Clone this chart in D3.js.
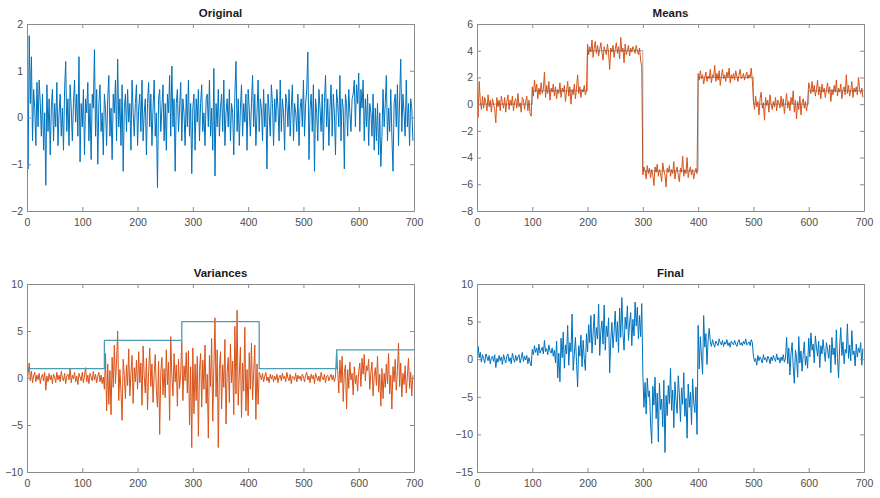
<!DOCTYPE html>
<html>
<head>
<meta charset="utf-8">
<script src="https://cdn.jsdelivr.net/npm/d3@7"></script>
<style>
    body { margin: 0; background: #fff; }
    svg { display: block; }
</style>
</head>
<body>
<div id="visualization"></div>
<script>
//sample spacing on the x axis (one value every 2 steps)
const sampleStep = 2;

const xTicks = [0, 100, 200, 300, 400, 500, 600, 700];

//original signal
const originalValues = [
    0.9, -1.1, 1.75, 0.3, 1.3, -0.5, 0.6, 0.2, -0.6, 0.75, -0.2, 0.8, 0.3, -0.4, 0.5, -0.7, 0.1, -1.45, 0.7, -0.3, 0.4, -0.8, 0.2, 0.6, -0.5,
    0.3, -0.2, 0.75, -0.6, 0.1, 0.5, -0.4, 0.2, -0.7, 0.6, 1.2, -0.3, 0.4, -0.6, 0.7, 0.2, -0.5, 0.3, 0.8, -0.1, 0.5, -0.4, 1.3, -0.95, 0.3,
    -0.2, 0.6, -0.8, 0.4, 0.1, 0.75, -0.5, 0.3, -0.9, 0.5, 0.2, 1.45, -0.4, 0.6, -1.0, 0.3, 0.7, -0.3, 0.1, -0.8, 0.5, 0.2, -0.6, 0.4, 0.9,
    -0.4, 0.2, -0.9, 0.5, 0.1, 0.8, -0.5, 1.25, -0.2, 0.4, -0.6, 0.7, -1.15, 0.2, 0.5, -0.3, 0.6, -0.1, 0.3, -0.7, 0.8, 0.1, -0.4, 0.3, 0.7,
    -0.6, 0.2, 0.5, -0.3, 0.8, -0.5, 0.1, 0.4, -0.8, 0.3, 0.75, -0.2, 0.5, -0.6, 0.2, 0.8, -0.4, 0.1, -1.5, 0.4, 0.6, -0.3, 0.2, 0.7, -0.5,
    0.3, -0.7, 0.5, 0.1, 0.9, -0.4, 1.1, -0.2, 0.4, -1.15, 0.3, 0.6, -0.3, 0.2, 0.75, -0.5, 0.4, 0.1, -0.6, 0.5, -0.2, 0.8, -0.4, 0.3, -1.2,
    0.2, 0.5, -0.7, 0.4, -0.1, 0.6, -0.5, 0.3, 0.7, -0.3, 0.1, -0.6, 0.4, 0.5, -0.2, 0.8, -0.4, 0.2, -0.7, 1.05, -1.25, 0.3, -0.2, 0.6, -0.4,
    0.2, 0.5, -0.3, 0.8, -0.6, 0.1, 0.4, -0.2, 0.6, -0.5, 0.3, 0.1, -0.8, 0.5, 1.2, -0.3, 0.4, -0.6, 0.2, 0.7, -0.4, 0.3, -0.1, 0.5, -0.7,
    0.6, 0.2, -0.4, 0.3, 0.9, -0.2, 0.5, -0.6, 0.1, 0.8, -0.3, 0.4, 0.2, -0.5, 0.6, -0.2, 0.3, -1.1, 0.5, 0.1, -0.4, 0.7, 0.3, -0.6, 0.4,
    -0.1, 0.6, 0.2, -0.5, 0.8, -0.3, 0.4, 0.1, -0.7, 0.5, 0.3, -0.2, 0.6, -0.4, 0.2, 0.7, -0.5, 0.3, 0.1, -0.3, 0.5, -0.6, 0.2, 0.4, -0.2,
    0.8, -0.4, 0.3, 0.6, 1.4, -0.9, 0.2, 0.5, -0.3, 0.7, -1.15, 0.4, 0.1, -0.5, 0.6, 0.2, -0.3, 0.5, -0.7, 0.3, 0.9, -0.2, 0.4, -0.6, 0.2,
    0.7, -0.4, 0.5, 0.1, -0.8, 0.6, 0.3, -0.2, 0.9, -0.5, 0.4, 0.2, -1.1, 0.5, 0.3, -0.4, 0.6, 0.1, -0.3, 0.4, 0.5, 0.8, -0.2, 0.7, 0.3,
    0.95, -0.3, 0.6, 0.2, 0.8, -0.5, 0.4, -0.2, 0.5, -0.6, 0.3, 0.1, -0.4, 0.5, -0.7, 0.2, -0.5, 0.3, -0.8, 0.1, -1.05, -0.4, 0.6, -0.2, 0.3,
    0.9, -0.5, 0.2, -0.3, 0.6, -0.4, -1.15, 0.3, 0.5, -0.2, 0.7, -0.6, 0.4, 1.25, -0.3, 0.5, 0.1, -0.4, 0.8, -0.2, 0.3, -0.6, 0.4, 0.2, -0.5
];

//signal with shifting means
const meansValues = [
    0.7, -1.0, 1.7, 0.2, -0.4, 0.6, -0.3, 0.5, 0.1, -0.5, 0.7, -0.2, 0.3, -0.6, 0.4, 0.0, -0.4, -1.4, 0.5, -0.2, 0.3, -0.5, 0.6, 0.1, -0.3,
    0.5, -0.6, 0.2, 0.7, -0.4, 0.3, -0.1, 0.6, -0.5, 0.2, 0.4, -0.3, 0.8, -0.2, 0.1, -0.6, 0.5, 0.3, -0.4, 0.2, 0.6, -0.5, 0.3, -0.7, -0.9,
    1.3, 0.6, 1.8, 0.9, 1.5, 0.4, 1.2, 0.7, 1.6, 0.8, 1.1, 2.4, 0.5, 1.4, 0.8, 1.7, 0.3, 1.2, 0.9, 1.5, 0.6, 1.3, 0.4, 1.1, 0.8,
    1.6, 0.5, 1.2, 0.9, 1.4, 0.2, 1.0, 1.7, 0.6, 1.3, 0.0, 1.1, 0.7, 1.5, 0.4, 1.2, 2.2, 0.8, 1.3, 0.5, 1.1, 0.9, 1.4, 0.7, 1.0,
    4.5, 3.7, 4.3, 3.9, 4.8, 3.5, 4.2, 4.7, 3.8, 4.4, 3.6, 4.1, 4.6, 3.9, 3.3, 4.3, 4.0, 3.7, 4.5, 3.8, 2.6, 4.2, 3.9, 4.4, 3.5,
    4.1, 4.6, 3.8, 4.3, 3.4, 5.0, 3.9, 4.2, 3.1, 4.5, 3.7, 4.0, 4.4, 3.6, 4.2, 3.9, 4.3, 4.1, 3.8, 4.4, 4.0, 3.7, 4.2, 3.3, 2.8,
    -5.3, -4.7, -5.0, -5.6, -4.6, -5.2, -4.8, -5.5, -4.9, -5.3, -6.1, -4.7, -5.1, -4.5, -5.4, -4.9, -5.2, -5.8, -4.4, -5.0, -5.3, -6.2, -4.8, -5.1, -4.6,
    -5.4, -4.9, -5.2, -4.3, -5.6, -5.0, -4.7, -5.3, -5.8, -4.8, -5.1, -3.9, -5.4, -4.9, -5.2, -4.0, -5.5, -5.0, -4.7, -5.3, -4.9, -5.6, -5.1, -4.8, -5.2,
    2.3, 1.8, 2.5, 1.9, 2.2, 1.5, 2.0, 2.4, 1.7, 2.1, 1.9, 2.6, 1.6, 2.2, 2.0, 2.9, 1.7, 2.3, 1.8, 2.5, 1.4, 2.1, 2.6, 1.9, 2.2,
    1.7, 2.4, 2.0, 2.7, 1.6, 2.2, 1.9, 2.3, 1.8, 2.5, 2.1, 1.7, 2.2, 2.6, 1.9, 2.0, 2.3, 1.8, 2.1, 2.4, 1.9, 2.2, 2.0, 2.7, 1.8,
    0.3, -0.4, 0.6, -0.2, 0.2, -0.8, 0.4, 0.9, -0.3, 0.1, -1.2, 0.5, -0.1, 0.3, -0.6, 0.7, 0.0, -0.4, 0.2, -0.2, 0.5, -0.5, 0.3, 0.1, -0.3,
    0.6, -0.2, 0.4, -0.7, 0.1, 0.8, -0.3, 0.2, -0.5, 0.5, 0.0, 1.0, -0.6, 0.3, -1.1, 0.2, -0.4, 0.6, -0.8, 0.1, 0.4, -0.3, 0.2, -0.5, 0.1,
    1.6, 1.2, 0.8, 1.7, 0.9, 1.4, 0.6, 1.1, 1.8, 0.7, 1.3, 0.4, 1.5, 0.9, 1.2, 0.5, 1.0, 1.6, 0.8, 1.3, 0.2, 1.1, 0.7, 1.4, 0.9,
    1.8, 0.6, 1.2, 0.9, 1.5, 0.4, 1.1, 1.3, 0.7, 2.2, 0.8, 1.4, 0.6, 1.0, 1.7, 0.5, 1.2, 0.9, 1.3, 0.7, 2.0, 1.1, 0.8, 1.2, 0.5
];

//step levels of the means
const meanBreaks = [0, 100, 200, 300, 400, 500, 600, 700];
const meanLevels = [0, 1, 4, -5, 2, 0, 1];

//signal with shifting variances
const variancesValues = [
    -0.8, 0.5, 1.6, -0.3, 0.7, -0.5, 0.2, 0.6, -0.4, 0.3, -0.2, 0.5, -0.6, 0.1, 0.4, -0.3, 0.6, -1.3, 0.2, -0.4, 0.5, -0.2, 0.3, -0.6, 0.4,
    0.1, -0.5, 0.6, -0.2, 0.3, -0.4, 0.7, 0.0, -0.3, 0.5, -0.6, 0.2, 0.4, -0.2, 1.0, -0.5, 0.3, -0.1, 0.6, -0.4, 0.2, -0.7, 0.5, 0.1, -0.3,
    0.6, -0.5, 0.2, 1.1, -0.4, 0.3, -0.6, 0.5, 0.1, -0.3, 0.7, -0.2, 0.4, -0.5, 0.2, 0.6, -0.4, 0.3, -0.6, 0.1, -1.2, 2.6, -3.5, 1.5, -2.8,
    0.8, -3.9, 2.2, -1.0, 3.5, -0.6, 1.8, 5.0, -2.4, 0.9, -1.5, -4.5, 2.0, 0.3, -2.2, 1.4, -0.8, 3.1, -1.9, 0.5, 2.4, -2.7, 1.1, -0.4, 1.9,
    -1.2, 2.8, -0.5, 1.6, -2.9, 3.4, 0.2, -1.6, 2.1, -3.4, 0.7, 3.2, -0.9, 1.5, -2.6, 0.4, 2.5, -1.3, -3.1, 1.8, -6.0, 0.6, 2.2, -1.8, 1.0,
    -2.1, 3.0, -0.7, 1.7, -4.5, 4.4, 0.3, -1.9, 2.6, -0.4, 1.4, -3.0, 2.0, -1.1, 0.5, 3.9, -2.4, 1.3, -0.3, 2.7, -1.6, 2.9, -5.0, 1.2, -7.4,
    3.2, -3.8, 1.5, -2.4, 2.3, -6.2, 0.8, 2.6, -3.1, 1.9, -1.2, 3.5, -2.7, 0.4, -6.4, 2.4, -0.9, 4.2, -4.6, 1.1, 6.4, -2.0, 3.0, -7.4, 0.9,
    2.8, -3.3, 1.4, -1.0, 4.1, -4.9, 0.6, 2.2, -2.6, 3.6, -0.5, 1.8, -3.9, 5.5, -1.7, 7.2, -2.9, 0.3, 3.3, -4.2, 1.6, -1.4, 5.4, -3.5, 0.9,
    -4.0, 2.7, -1.2, 3.7, -2.3, 0.5, 3.5, -4.4, 1.5, -2.8, 0.6, 0.3, -0.2, 0.5, -0.4, 0.2, 0.6, -0.3, 0.1, -0.5, 0.4, -0.1, 0.3, -0.4, 0.2,
    -0.2, 0.4, -0.5, 0.1, 0.3, -0.3, 0.5, -0.1, 0.2, -0.4, 0.6, 0.0, -0.3, 0.4, -0.6, 0.2, 0.1, -0.2, 0.5, -0.4, 0.3, -0.1, 0.2, -0.3, 0.4,
    0.1, -0.4, 0.3, 0.6, -0.2, 0.2, -0.5, 0.4, -0.1, 0.3, -0.6, 0.5, 0.1, -0.3, 0.2, -0.4, 0.6, 0.0, -0.2, 0.4, -0.5, 0.2, 0.3, -0.3, 0.1,
    0.4, -0.2, 0.3, -0.4, 0.2, 2.9, 0.8, -1.6, 1.9, -0.5, 2.3, -2.5, 0.6, 1.4, -3.3, 0.9, -1.1, 1.7, -0.2, 0.5, -1.8, 1.2, -0.6, 0.3, -1.4,
    0.7, 1.6, -0.9, 2.1, 0.4, 2.5, -0.3, 1.3, 0.8, 2.0, -1.2, 0.6, 1.7, -1.9, 0.2, 1.1, -0.8, 2.3, -1.5, 0.4, -3.0, 1.0, -2.2, 0.5, -1.0,
    1.5, -0.6, 2.6, -1.7, 0.3, -3.3, 1.2, -0.4, 2.0, -1.3, 0.8, 3.7, -0.9, 1.6, -2.0, 0.5, -0.7, 1.3, -1.6, 0.2, 2.1, -1.1, 0.6, -1.9, 0.3
];

//step levels of the variances
const varBreaks = [0, 140, 280, 420, 560, 700];
const varLevels = [1, 4, 6, 1, 3];

//final combined signal
const finalValues = [
    -0.8, 1.7, 0.2, 0.9, -0.4, 0.6, 0.1, -0.5, 0.7, 0.3, -0.2, 0.5, -0.6, 0.2, 0.4, -0.3, 0.6, -1.1, 0.1, -0.4, 0.5, -0.2, 0.3, -0.7, 0.6,
    0.0, -0.5, 0.4, 0.7, -0.3, 0.2, -0.6, 0.8, 0.1, -0.4, 0.5, -0.2, 0.3, 0.6, -0.5, 0.2, 0.9, -0.3, 0.4, -0.1, 0.5, -0.6, 0.2, -0.4, -0.9,
    1.3, 0.6, 1.8, 0.9, 1.5, 0.5, 2.0, 0.8, 1.2, 1.6, 0.7, 2.5, 1.0, 1.4, 0.6, 1.9, 1.1, 0.8, 1.5, 0.4, 1.2, -0.5, 2.4, -2.5, 0.8,
    -3.0, 2.8, 0.2, 3.6, -1.2, 1.9, 0.7, 4.5, -0.8, 2.2, 1.0, 6.0, -1.5, 0.6, 2.9, -0.3, -3.7, 1.8, 0.4, 3.2, -1.0, 2.5, 0.1, -1.5, 3.4,
    1.0, 4.6, 2.2, 5.8, 0.8, 3.5, 6.0, 1.9, 4.2, 2.7, 7.3, 0.5, 3.8, 5.1, 2.0, 7.2, 1.2, 4.4, 3.0, 5.5, -1.8, 2.6, 4.9, 1.5, 3.7,
    6.4, 2.3, 5.0, 0.9, 6.8, 2.9, 8.2, 3.4, 1.2, 5.6, 4.0, 7.1, 2.5, 4.8, 6.2, 1.8, 5.3, 3.1, 7.6, 4.4, 6.9, 2.7, 5.8, 3.0, 7.4,
    -2.0, -6.4, -3.1, -7.3, -2.5, -5.0, -4.2, -8.6, -11.2, -3.6, -6.1, -2.4, -7.9, -4.5, -11.0, -3.2, -6.7, -5.3, -9.0, -2.8, -12.4, -4.8, -7.5, -3.5, -5.9,
    -1.2, -6.8, -4.1, -9.1, -3.0, -5.5, -7.2, -2.2, -4.6, -8.3, -3.8, -6.0, -1.8, -7.6, -5.2, -10.5, -3.3, -6.4, -4.4, -8.7, -2.6, -5.7, -7.1, -3.7, -10.0,
    4.5, -1.3, 3.0, 0.4, -2.0, 5.8, 1.6, 3.4, -0.7, 2.5, 4.1, 2.3, 1.7, 2.6, 2.0, 1.6, 2.4, 2.1, 1.8, 2.7, 2.2, 1.9, 2.5, 1.7, 2.3,
    2.0, 2.6, 1.8, 2.2, 1.6, 2.4, 2.1, 1.9, 2.5, 2.0, 1.7, 2.3, 2.6, 1.9, 2.2, 1.8, 2.4, 2.0, 2.7, 1.9, 2.1, 2.3, 1.8, 2.6, 2.2,
    0.4, -0.3, 0.1, -0.8, 0.5, -0.2, 0.3, 0.0, -0.5, 0.6, -0.1, 0.2, -0.4, 0.4, 0.1, -0.6, 0.3, -0.2, 0.5, 0.0, -0.3, 0.7, -0.1, 0.2, -0.5,
    0.3, -0.2, 0.6, -0.4, 0.1, 2.9, -0.6, 1.5, -2.1, 0.8, 2.2, -1.0, -3.2, 1.2, 0.2, -2.4, 3.0, -0.5, 1.1, -1.6, 0.6, 2.3, -0.8, 0.4, -1.2,
    2.8, 0.3, 3.5, 1.2, 2.0, -0.5, 3.1, 1.6, 0.4, 2.4, -1.1, 1.8, 0.7, 2.6, 1.0, -0.3, 2.2, 1.4, 0.1, 1.9, -1.8, 2.9, 0.6, 1.5, -0.7,
    3.9, 0.2, -2.5, 1.7, 4.2, 0.5, 2.3, -0.6, 1.3, 0.8, 4.7, 0.1, 1.9, -0.2, 3.8, 0.6, 1.1, -0.9, 2.0, 0.3, 1.5, 0.9, 2.2, -0.8, 1.4
];

//y tick labels per panel
const originalTicks = [-2, -1, 0, 1, 2];
const meansTicks = [-8, -6, -4, -2, 0, 2, 4, 6];
const variancesTicks = [-10, -5, 0, 5, 10];
const finalTicks = [-15, -10, -5, 0, 5, 10];

const blue = "#0072bd";
const orange = "#d95319";

const svg = d3.select("#visualization")
    .append("svg")
        .attr("width", 880)
        .attr("height", 498);

/**
 * draws one subplot
 *
 * @param {Object} box position and size of the axes box
 * @param {String} title the panel title
 * @param {Array} yTicks tick values on y, first/last define the domain
 * @param {Array} layers lines to draw, in order
 */
function drawPanel(box, title, yTicks, layers) {
    const g = svg.append("g")
        .attr("transform", `translate(${box.left}, ${box.top})`);

    const x = d3.scaleLinear()
        .domain([xTicks[0], xTicks[xTicks.length - 1]])
        .range([0, box.width]);
    const y = d3.scaleLinear()
        .domain([yTicks[0], yTicks[yTicks.length - 1]])
        .range([box.height, 0]);

    //clip so lines stay inside the box
    const clipId = "clip-" + title;
    g.append("clipPath")
        .attr("id", clipId)
        .append("rect")
            .attr("width", box.width)
            .attr("height", box.height);

    const plot = g.append("g").attr("clip-path", `url(#${clipId})`);

    layers.forEach(layer => {
        const line = d3.line()
            .x(d => x(d[0]))
            .y(d => y(d[1]));
        if(layer.step) line.curve(d3.curveStepAfter);

        plot.append("path")
            .datum(layer.points)
            .attr("fill", "none")
            .attr("stroke", layer.color)
            .attr("stroke-width", layer.width)
            .attr("stroke-linejoin", "round")
            .attr("d", line);
    });

    //axes, matlab style: ticks inward on all four sides
    const tickLen = 4;
    const fmt = d3.format("d");
    const axes = [
        d3.axisBottom(x).tickValues(xTicks).tickSizeInner(-tickLen).tickFormat(fmt).tickPadding(8),
        d3.axisTop(x).tickValues(xTicks).tickSizeInner(-tickLen).tickFormat(""),
        d3.axisLeft(y).tickValues(yTicks).tickSizeInner(-tickLen).tickFormat(fmt).tickPadding(4),
        d3.axisRight(y).tickValues(yTicks).tickSizeInner(-tickLen).tickFormat("")
    ];
    const shifts = [
        `translate(0, ${box.height})`, "translate(0, 0)",
        "translate(0, 0)", `translate(${box.width}, 0)`
    ];

    axes.forEach((axis, i) => {
        const a = g.append("g")
            .attr("transform", shifts[i])
            .call(axis.tickSizeOuter(0));
        a.select(".domain").attr("stroke", "#8c8c8c");
        a.selectAll(".tick line").attr("stroke", "#8c8c8c");
        a.selectAll(".tick text")
            .attr("fill", "#4d4d4d")
            .attr("font-family", "Liberation Sans, Arial, sans-serif")
            .attr("font-size", 10.5);
    });

    g.append("text")
        .attr("x", box.width / 2)
        .attr("y", -7)
        .attr("text-anchor", "middle")
        .attr("font-family", "Liberation Sans, Arial, sans-serif")
        .attr("font-weight", "bold")
        .attr("font-size", 11.5)
        .attr("fill", "#1a1a1a")
        .text(title);
}

//turns a value list into [x, y] pairs
const toPoints = values => values.map((v, i) => [i * sampleStep, v]);
//turns step breaks and levels into [x, y] pairs
const toSteps = (breaks, levels) =>
    breaks.map((b, i) => [b, levels[Math.min(i, levels.length - 1)]]);

const boxes = {
    topLeft: { left: 27, top: 24, width: 387, height: 187 },
    topRight: { left: 477, top: 24, width: 387, height: 187 },
    bottomLeft: { left: 27, top: 284, width: 387, height: 188 },
    bottomRight: { left: 477, top: 284, width: 387, height: 188 }
};

drawPanel(boxes.topLeft, "Original", originalTicks, [
    { points: toPoints(originalValues), color: blue, width: 1 }
]);

drawPanel(boxes.topRight, "Means", meansTicks, [
    { points: toPoints(meansValues), color: orange, width: 1 },
    { points: toSteps(meanBreaks, meanLevels), color: "#555", width: 0.5, step: true }
]);

drawPanel(boxes.bottomLeft, "Variances", variancesTicks, [
    { points: toPoints(variancesValues), color: orange, width: 1 },
    { points: toSteps(varBreaks, varLevels), color: "#4b9cb5", width: 1.3, step: true }
]);

drawPanel(boxes.bottomRight, "Final", finalTicks, [
    { points: toPoints(finalValues), color: blue, width: 1 }
]);
</script>
</body>
</html>
